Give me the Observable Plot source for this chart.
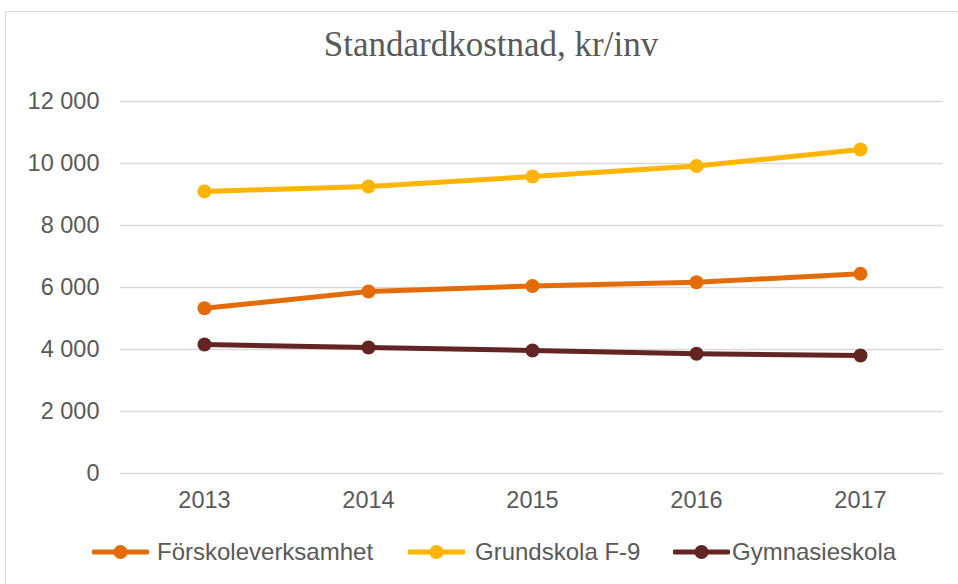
<!DOCTYPE html>
<html>
<head>
<meta charset="utf-8">
<script src="https://cdn.jsdelivr.net/npm/d3@7"></script>
<script src="https://cdn.jsdelivr.net/npm/@observablehq/plot@0.6"></script>
<style>
  html, body { margin: 0; padding: 0; background: #fff; }
  body { width: 958px; height: 584px; position: relative; overflow: hidden; font-family: "Liberation Sans", Arial, sans-serif; color: #595959; }
  #frame { position: absolute; left: 5px; top: 11px; width: 1000px; height: 1000px; border: 1px solid #d9d9d9; box-sizing: border-box; }
  #title { position: absolute; left: 0; width: 982px; top: 25px; text-align: center; font-family: "Liberation Serif", "DejaVu Serif", serif; font-size: 35px; color: #595959; }
  #chart { position: absolute; left: 0; top: 80px; }
  #legend { position: absolute; left: 0; top: 537px; width: 958px; height: 30px; font-size: 24px; }
  .item { position: absolute; top: 0; display: flex; align-items: center; height: 30px; }
  .item svg { display: block; }
</style>
</head>
<body>
<div id="frame"></div>
<div id="title">Standardkostnad, kr/inv</div>
<div id="chart"></div>
<div id="legend"></div>
<script>
const years = ["2013", "2014", "2015", "2016", "2017"];
const seriesNames = ["Förskoleverksamhet", "Grundskola F-9", "Gymnasieskola"];
const forskola = [5330, 5870, 6050, 6170, 6440];
const grundskola = [9100, 9260, 9580, 9920, 10450];
const gymnasie = [4160, 4065, 3970, 3865, 3805];
const colors = ["#E36C09", "#FFB400", "#632523"];
const yTicks = [0, 2000, 4000, 6000, 8000, 10000, 12000];

const values = [forskola, grundskola, gymnasie];
const data = [];
seriesNames.forEach((s, i) => years.forEach((y, j) => data.push({series: s, year: y, value: values[i][j]})));

const fmt = d => d3.format(",")(d).replace(/,/g, " ");

const chart = Plot.plot({
  width: 958,
  height: 440,
  marginLeft: 120,
  marginRight: 15,
  marginTop: 21,
  marginBottom: 47,
  style: {fontFamily: "'Liberation Sans', Arial, sans-serif", fontSize: "23.5px", color: "#595959", background: "transparent"},
  x: {type: "point", domain: years, padding: 0.5, label: null},
  y: {domain: [0, 12000], label: null},
  color: {domain: seriesNames, range: colors},
  marks: [
    Plot.ruleY(yTicks, {stroke: "#d9d9d9", strokeWidth: 1.5}),
    Plot.axisY({ticks: yTicks, tickFormat: fmt, tickSize: 0, tickPadding: 21, label: null, fill: "#595959"}),
    Plot.axisX({tickSize: 0, tickPadding: 18, label: null, fill: "#595959"}),
    Plot.line(data, {x: "year", y: "value", z: "series", stroke: "series", strokeWidth: 5, curve: "linear"}),
    Plot.dot(data, {x: "year", y: "value", fill: "series", r: 7, stroke: null})
  ]
});
document.getElementById("chart").appendChild(chart);

// legend
const legendPos = [{line: 92, text: 157}, {line: 408, text: 475}, {line: 673, text: 732}];
const legend = document.getElementById("legend");
seriesNames.forEach((s, i) => {
  const item = document.createElement("div");
  item.className = "item";
  item.style.left = legendPos[i].line + "px";
  const w = 57;
  item.innerHTML = `<svg width="${w}" height="30"><line x1="2" x2="${w-2}" y1="15" y2="15" stroke="${colors[i]}" stroke-width="5" stroke-linecap="round"/><circle cx="${w/2}" cy="15" r="7" fill="${colors[i]}"/></svg>`;
  const span = document.createElement("span");
  span.textContent = s;
  span.style.position = "absolute";
  span.style.left = (legendPos[i].text - legendPos[i].line) + "px";
  span.style.whiteSpace = "nowrap";
  item.appendChild(span);
  legend.appendChild(item);
});
</script>
</body>
</html>
